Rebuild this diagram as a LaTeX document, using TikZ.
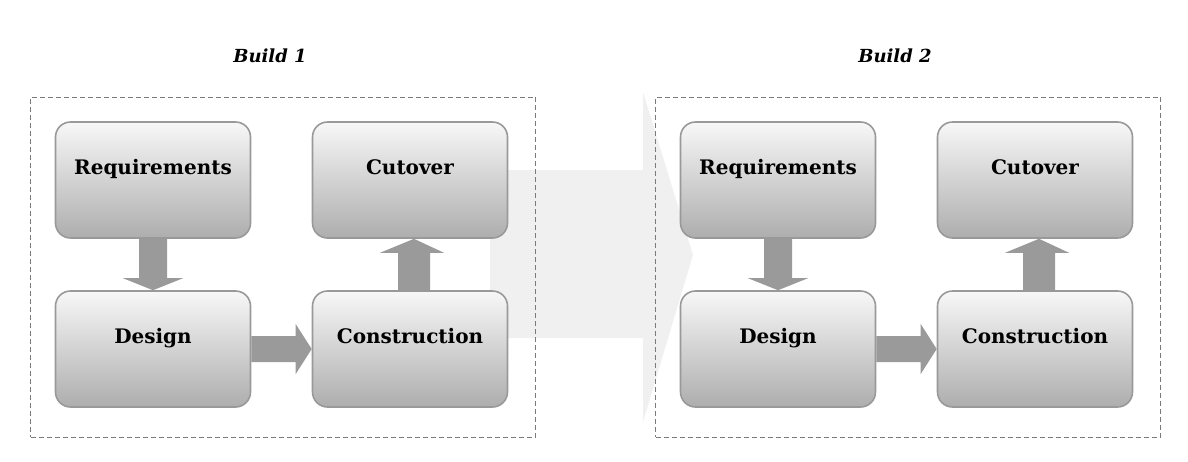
\documentclass[tikz,border=0pt]{standalone}
\usepackage{fontspec}
\setmainfont{DejaVu Serif}
\usetikzlibrary{calc}
\definecolor{arrowgray}{HTML}{9A9A9A}
\definecolor{biggray}{HTML}{F0F0F0}
\definecolor{boxline}{HTML}{999999}
\definecolor{dashgray}{HTML}{7A7A7A}
\tikzset{
  stage/.style={draw=boxline, line width=1.6pt, rounded corners=15pt,
    minimum width=195pt, minimum height=116pt, top color=white!97!black,
    bottom color=black!32, font=\fontsize{20}{24}\selectfont\bfseries,
    text height=15pt, text depth=27pt, inner sep=0pt},
  buildbox/.style={draw=dashgray, line width=1pt, dash pattern=on 5pt off 3pt},
  buildtitle/.style={font=\fontsize{18}{21}\selectfont\bfseries\itshape},
  flow/.style={fill=arrowgray, draw=none},
}
\begin{document}
\begin{tikzpicture}[x=1pt,y=-1pt]
\useasboundingbox (0,0) rectangle (1188,461);
% big background arrow
\coordinate (bigL) at (490,255);
\coordinate (bigT) at (693,255);
\fill[biggray] ($(bigL)+(0,-85)$) -- ($(bigT)+(-50,-85)$) -- ($(bigT)+(-50,-163)$) -- (bigT)
  -- ($(bigT)+(-50,167)$) -- ($(bigT)+(-50,83)$) -- ($(bigL)+(0,83)$) -- cycle;

\foreach \dx/\n in {0/1, 625/2} {
  \begin{scope}[xshift=\dx]
    \node[buildtitle] (title\n) at (270,56) {Build \n};
    \node[buildbox, minimum width=505pt, minimum height=340pt, inner sep=0pt] (frame\n) at (283,267) {};
    \node[stage] (req\n) at (153,180) {Requirements};
    \node[stage] (cut\n) at (410,180) {Cutover};
    \node[stage] (des\n) at (153,349) {Design};
    \node[stage] (con\n) at (410,349) {Construction};
  \end{scope}
  % requirements -> design
  \fill[flow] ($(req\n.south)+(-14,0)$) -- ($(req\n.south)+(14,0)$) -- ($(des\n.north)+(14,-12)$)
     -- ($(des\n.north)+(30,-12)$) -- (des\n.north) -- ($(des\n.north)+(-30,-12)$)
     -- ($(des\n.north)+(-14,-12)$) -- cycle;
  % design -> construction
  \fill[flow] ($(des\n.east)+(0,-13)$) -- ($(con\n.west)+(-16,-13)$) -- ($(con\n.west)+(-16,-25)$)
     -- (con\n.west) -- ($(con\n.west)+(-16,25)$) -- ($(con\n.west)+(-16,13)$)
     -- ($(des\n.east)+(0,13)$) -- cycle;
  % construction -> cutover
  \fill[flow] ($(con\n.north)+(-12,0)$) -- ($(cut\n.south)+(-12,14)$) -- ($(cut\n.south)+(-30,14)$)
     -- ($(cut\n.south)+(4,0)$) -- ($(cut\n.south)+(34,14)$) -- ($(cut\n.south)+(20,14)$)
     -- ($(con\n.north)+(20,0)$) -- cycle;
}
\end{tikzpicture}
\end{document}
